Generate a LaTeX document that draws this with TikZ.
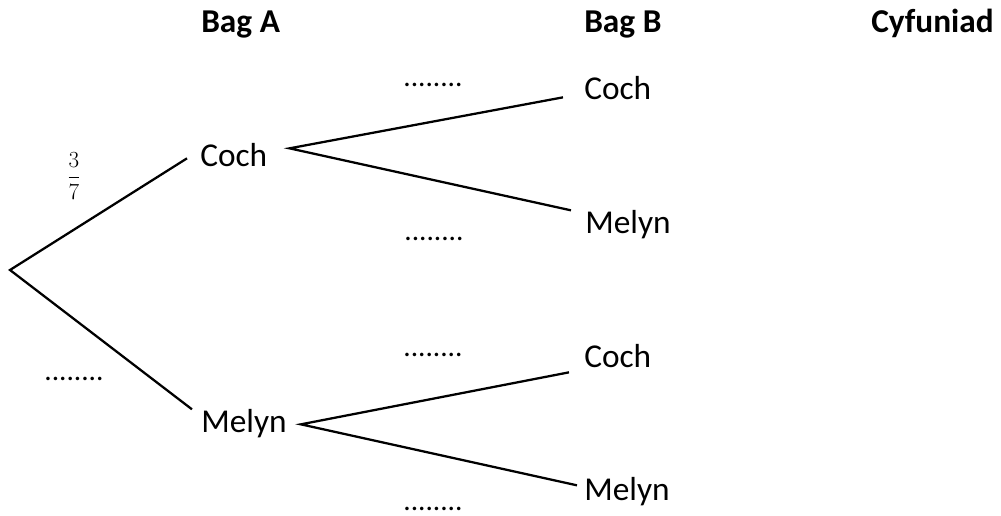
\documentclass[tikz,border=0pt]{standalone}
\usepackage{fontspec}
\setmainfont{Carlito}
\usepackage{tikz}
\def\outfont{\fontsize{25}{30}\selectfont}
\def\dotfont{\fontsize{22}{26}\selectfont}
\def\gap{........}

\begin{document}
\begin{tikzpicture}[x=0.75pt,y=-0.75pt,
        outcome/.style={font=\outfont,inner sep=0pt,text height=16pt,text depth=0pt,anchor=base west},
        heading/.style={font=\outfont\bfseries,inner sep=0pt,anchor=base west},
        blank/.style={font=\dotfont,inner sep=0pt,text depth=0pt,anchor=base},
        branch/.style={line width=1.7pt}]
                \useasboundingbox (0,0) rectangle (1001,515);
                \node[heading] (hA) at (201,32) {Bag A};
                \node[heading] (hB) at (584,32) {Bag B};
                \node[heading] (hC) at (871,32) {Cyfuniad};
                \coordinate (root) at (10,270);
                \node[outcome] (cochA)   at (200,166) {Coch};
                \node[outcome] (melynA)  at (201,432) {Melyn};
                \node[outcome] (cochBu)  at (584,99)  {Coch};
                \node[outcome] (melynBu) at (585,233) {Melyn};
                \node[outcome] (cochBl)  at (584,367) {Coch};
                \node[outcome] (melynBl) at (584,500) {Melyn};
                \draw[branch] ([shift={(-13,3)}]cochA.west) -- (root) -- ([shift={(-9,-12)}]melynA.west);
                \draw[branch] ([shift={(-21,9)}]cochBu.west) -- ([shift={(22,-7)}]cochA.east) -- ([shift={(-14,-12)}]melynBu.west);
                \draw[branch] ([shift={(-15,16)}]cochBl.west) -- ([shift={(14,3)}]melynA.east) -- ([shift={(-7,-4)}]melynBl.west);
                \node[font=\fontsize{17}{20}\selectfont,inner sep=0pt] (pA) at (74,176) {$\displaystyle\frac{3}{7}$};
                \node[blank] (qA)  at (74,380)  {\gap};
                \node[blank] (qBu) at (433,86)  {\gap};
                \node[blank] (qBm) at (434,240) {\gap};
                \node[blank] (qBl) at (433,356) {\gap};
                \node[blank] (qBb) at (433,510) {\gap};
            \end{tikzpicture}
\end{document}
